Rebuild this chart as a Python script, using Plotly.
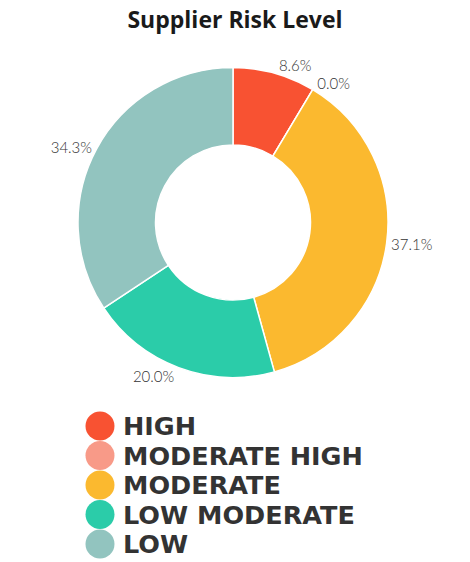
import plotly.graph_objects as go

categories = ["HIGH", "MODERATE HIGH", "MODERATE", "LOW MODERATE", "LOW"]
shares = [8.6, 0.0, 37.1, 20.0, 34.3]
colors = ["#F85232", "#F89A88", "#FBB92F", "#2BCCA9", "#92C4BF"]
title_text = "Supplier Risk Level"

W, H = 470, 562

fig = go.Figure()

fig.add_trace(go.Pie(
    labels=categories,
    values=shares,
    sort=False,
    direction="clockwise",
    rotation=0,
    hole=0.5,
    marker=dict(colors=colors, line=dict(color="white", width=1.5)),
    textposition="outside",
    texttemplate="%{value:.1f}%",
    textfont=dict(family="Lato", size=15, color="#333333", weight=300),
    showlegend=False,
    domain=dict(x=[(233 - 155) / W, (233 + 155) / W], y=[1 - 378 / H, 1 - 67 / H]),
))

# custom legend with large circles
n = len(categories)
y0_px, step_px = 426, 29.5
text_dy = 3 / step_px
fig.add_trace(go.Scatter(
    x=[100] * n,
    y=list(range(n)),
    mode="markers",
    marker=dict(size=29, color=colors),
    hoverinfo="skip",
    showlegend=False,
    cliponaxis=False,
))
fig.add_trace(go.Scatter(
    x=[123] * n,
    y=[i + text_dy for i in range(n)],
    mode="text",
    text=categories,
    textposition="middle right",
    textfont=dict(family="DejaVu Sans", size=25.5, color="#333333", weight="bold"),
    hoverinfo="skip",
    showlegend=False,
    cliponaxis=False,
))

fig.update_layout(
    width=W, height=H,
    margin=dict(l=0, r=0, t=0, b=0),
    paper_bgcolor="white",
    plot_bgcolor="rgba(0,0,0,0)",
    title=dict(text=title_text, x=0.5, xanchor="center", y=1 - 20 / H, yanchor="middle",
               font=dict(family="Open Sans", size=23, color="#1a1a1a", weight="bold")),
    xaxis=dict(range=[0, W], visible=False, fixedrange=True),
    yaxis=dict(range=[(H - y0_px) / step_px, -y0_px / step_px], visible=False, fixedrange=True),
)

fig.write_html("out.html", config={"displayModeBar": False},
               post_script="document.body.style.margin='0';")
